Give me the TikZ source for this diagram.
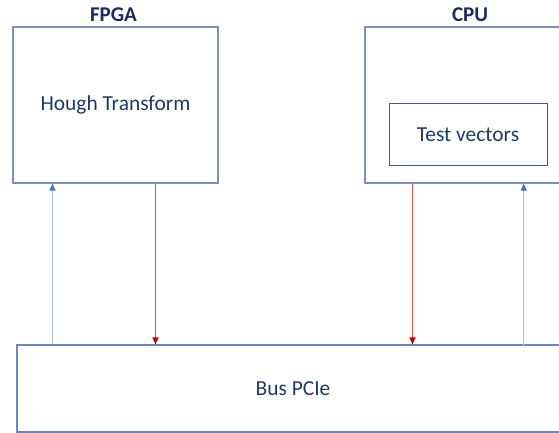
\documentclass[tikz,border=0pt]{standalone}
\usepackage{fontspec}
\setmainfont{Carlito}
\usetikzlibrary{arrows.meta}
\definecolor{titlecol}{HTML}{1C2A5E}
\definecolor{textcol}{HTML}{203864}
\definecolor{boxcol}{HTML}{7F91B8}
\definecolor{innercol}{HTML}{3F5A96}
\definecolor{buscol}{HTML}{6F86BA}
\definecolor{upline}{HTML}{A6BEE8}
\definecolor{uptip}{HTML}{4472C4}
\definecolor{downline}{HTML}{E44848}
\definecolor{downtip}{HTML}{C00000}
\tikzset{
  bodyfont/.style={font=\fontsize{21.4}{25}\selectfont, text=textcol},
  unitbox/.style={draw=boxcol, line width=1.2pt, inner sep=0pt, fill=white, bodyfont},
  innerbox/.style={draw=innercol, line width=1pt, inner sep=0pt, bodyfont},
  title/.style={font=\bfseries\fontsize{21}{25}\selectfont, text=titlecol, inner sep=0pt},
  label/.style={bodyfont, inner sep=0pt},
  upflow/.style={draw=upline, line width=1.1pt,
    -{Triangle[width=6pt,length=7pt,fill=uptip,color=uptip]}},
  downflow/.style={draw=downline, line width=1.1pt,
    -{Triangle[width=6pt,length=7pt,fill=downtip,color=downtip]}},
}
\begin{document}
\begin{tikzpicture}[x=1pt,y=-1pt]
\useasboundingbox (0,0) rectangle (559,433);
\fill[white] (0,0) rectangle (559,433);

% processing units
\node[unitbox, minimum width=205pt, minimum height=156pt] (fpga) at (115.5,105) {Hough Transform};
\node[unitbox, minimum width=210pt, minimum height=156pt] (cpu) at (470,105) {};
\node[innerbox, minimum width=158pt, minimum height=61pt] (tv) at (468,134.5) {Test vectors};

\node[title] (fpgat) at (113.5,15) {FPGA};
\node[title] (cput) at (470,15) {CPU};

% shared bus
\node[draw=buscol, line width=1.2pt, inner sep=0pt, minimum width=552pt, minimum height=87pt] (bus) at (293,388.5) {};
\node[label] (buslabel) at (293,388.5) {Bus PCIe};

% column positions of the links
\coordinate (c1) at (52.5,0);
\coordinate (c2) at (155.5,0);
\coordinate (c3) at (412.5,0);
\coordinate (c4) at (523.7,0);

% links between the bus and the units
\draw[upflow] (bus.north -| c1) -- (fpga.south -| c1);
\draw[downflow] (fpga.south -| c2) -- (bus.north -| c2);
\draw[downflow] (cpu.south -| c3) -- (bus.north -| c3);
\draw[upflow] ([yshift=-2pt]bus.north -| c4) -- (cpu.south -| c4);
\end{tikzpicture}
\end{document}
